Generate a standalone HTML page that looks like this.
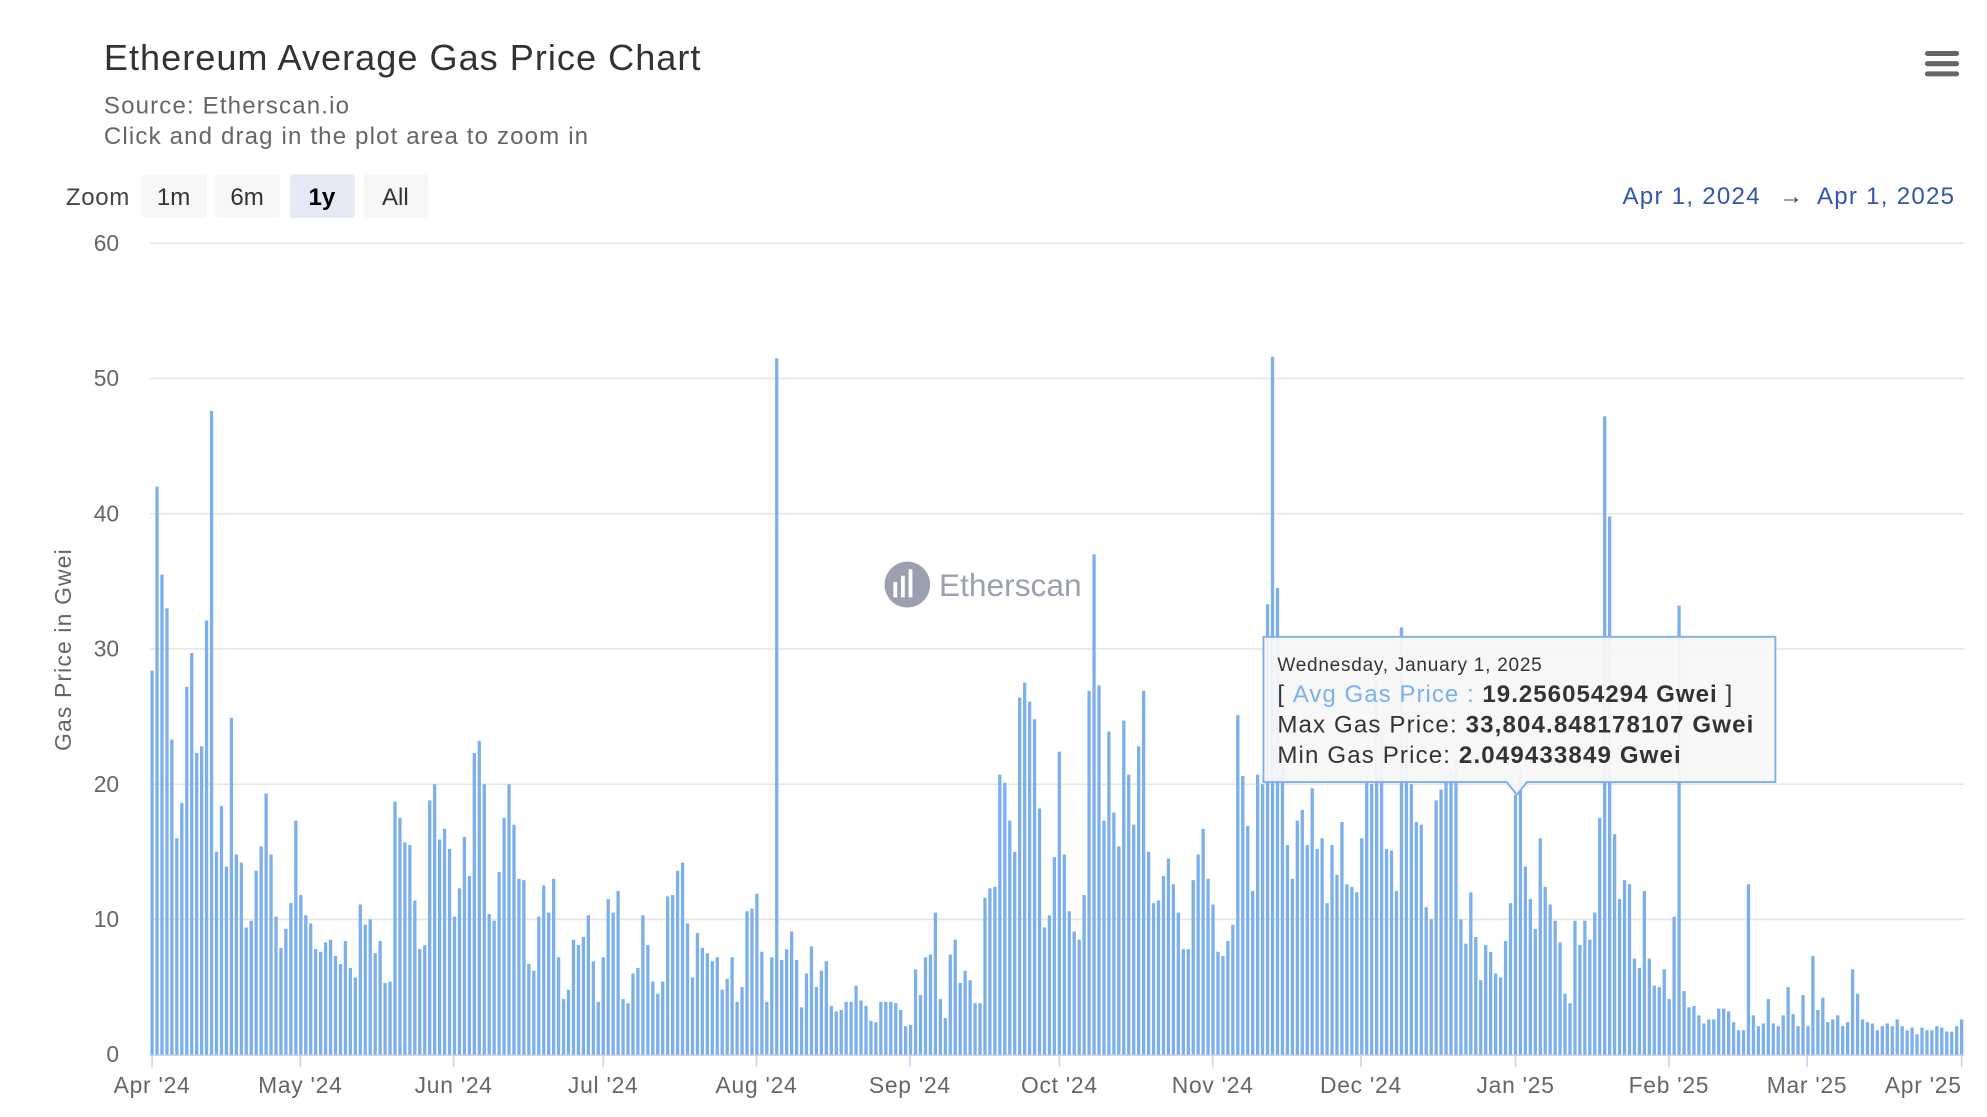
<!DOCTYPE html>
<html><head><meta charset="utf-8"><style>
html,body{margin:0;padding:0;background:#fff;overflow:hidden}
#w{width:1568px;height:877px;transform:scale(1.26722,1.27366);transform-origin:0 0;position:relative;font-family:"Liberation Sans","DejaVu Sans",sans-serif}
svg text{font-family:"Liberation Sans","DejaVu Sans",sans-serif}
</style></head><body><div id="w">
<svg id="s" width="1568" height="877" xmlns="http://www.w3.org/2000/svg">
<text x="82" y="55" font-size="28.5" fill="#333" letter-spacing="0.8">Ethereum Average Gas Price Chart</text>
<text x="82" y="89" font-size="19" fill="#666" letter-spacing="0.9">Source: Etherscan.io</text>
<text x="82" y="113" font-size="19" fill="#666" letter-spacing="0.9">Click and drag in the plot area to zoom in</text>
<g fill="#666"><rect x="1519" y="40" width="27" height="4" rx="2"/><rect x="1519" y="48" width="27" height="4" rx="2"/><rect x="1519" y="56" width="27" height="4" rx="2"/></g>
<text x="52" y="161" font-size="19" fill="#444" letter-spacing="0.5">Zoom</text>
<rect x="112" y="137" width="51" height="34" rx="2" fill="#f7f7f7"/><text x="137" y="161" font-size="19" text-anchor="middle" fill="#333">1m</text>
<rect x="170" y="137" width="51" height="34" rx="2" fill="#f7f7f7"/><text x="195" y="161" font-size="19" text-anchor="middle" fill="#333">6m</text>
<rect x="229" y="137" width="51" height="34" rx="2" fill="#e6e9f5"/><text x="254" y="161" font-size="19" text-anchor="middle" fill="#000" font-weight="bold">1y</text>
<rect x="287" y="137" width="51" height="34" rx="2" fill="#f7f7f7"/><text x="312" y="161" font-size="19" text-anchor="middle" fill="#333">All</text>
<text x="1543" y="160" font-size="19" text-anchor="end" fill="#3355aa" letter-spacing="1">Apr 1, 2024 <tspan fill="#444" dx="8">→</tspan><tspan dx="10">Apr 1, 2025</tspan></text>
<g id="grid"></g>
<text transform="translate(56,510) rotate(-90)" font-size="18" text-anchor="middle" fill="#666" letter-spacing="0.9">Gas Price in Gwei</text>
<g opacity="0.75"><circle cx="716" cy="459" r="18" fill="#7a8096"/><text x="741" y="468" font-size="25" fill="#7a8096">Etherscan</text><g fill="#fff"><rect x="705" y="457" width="3" height="12"/><rect x="711" y="452" width="3" height="17"/><rect x="717" y="447" width="3" height="22"/></g></g>
<g id="bars" fill="#7cb0ec"></g>
<g id="xl"></g>
<g>
<path d="M997,500 H1401 V614 H1205 L1197,624 L1189,614 H997 Z" fill="#f7f7f7" fill-opacity="0.95" stroke="#7cb0ec" stroke-width="1.5"/>
<text x="1008" y="527" font-size="15" fill="#333" letter-spacing="0.6">Wednesday, January 1, 2025</text>
<text x="1008" y="551" font-size="19" fill="#333" letter-spacing="0.8">[ <tspan fill="#7cb0ec">Avg Gas Price : </tspan><tspan font-weight="bold">19.256054294 Gwei</tspan> ]</text>
<text x="1008" y="575" font-size="19" fill="#333" letter-spacing="0.9">Max Gas Price: <tspan font-weight="bold">33,804.848178107 Gwei</tspan></text>
<text x="1008" y="599" font-size="19" fill="#333" letter-spacing="0.9">Min Gas Price: <tspan font-weight="bold">2.049433849 Gwei</tspan></text>
</g>
</svg>
<script>
var d=[28.4,42,35.5,33,23.3,16,18.6,27.2,29.7,22.3,22.8,32.1,47.6,15,18.4,13.9,24.9,14.8,14.2,9.4,9.9,13.6,15.4,19.3,14.8,10.2,7.9,9.3,11.2,17.3,
11.8,10.3,9.7,7.8,7.6,8.3,8.5,7.3,6.7,8.4,6.4,5.7,11.1,9.6,10,7.5,8.4,5.3,5.4,18.7,17.5,15.7,15.5,11.4,7.8,8.1,18.8,20,15.9,16.7,15.2,
10.2,12.3,16.1,13.2,22.3,23.2,20,10.4,9.9,13.5,17.5,20,17,13,12.9,6.7,6.2,10.2,12.5,10.5,13,7.2,4.1,4.8,8.5,8.1,8.7,10.3,6.9,3.9,
7.2,11.5,10.5,12.1,4.1,3.8,6,6.4,10.3,8.1,5.4,4.5,5.4,11.7,11.8,13.6,14.2,9.7,5.7,9,7.9,7.5,6.9,7.2,4.8,5.6,7.2,3.9,5,10.6,10.8,
11.9,7.6,3.9,7.2,51.5,7,7.8,9.1,7,3.5,6,8,5,6.2,6.9,3.6,3.2,3.3,3.9,3.9,5.1,4,3.6,2.5,2.4,3.9,3.9,3.9,3.8,3.3,2.1,
2.2,6.3,4.4,7.2,7.4,10.5,4.1,2.7,7.4,8.5,5.3,6.2,5.5,3.8,3.8,11.6,12.3,12.4,20.7,20.1,17.3,15,26.4,27.5,26.1,24.8,18.2,9.4,10.3,14.6,
22.4,14.8,10.6,9.1,8.5,11.8,26.9,37,27.3,17.3,23.9,17.9,15.4,24.7,20.7,17,22.8,26.9,15,11.2,11.4,13.2,14.5,12.6,10.5,7.8,7.8,12.9,14.8,16.7,13,
11.1,7.6,7.3,8.4,9.6,25.1,20.6,16.9,12.1,20.7,20,33.3,51.6,34.5,22,15.5,13,17.3,18.1,15.5,19.7,15.2,16,11.2,15.5,13.3,17.2,12.6,12.4,12,
16,20.5,20,28,24,15.2,15.1,12.1,31.6,24,20,17.2,17,10.9,10,18.8,19.6,20.7,21,22,10,8.2,12,8.7,5.5,8.1,7.6,6,5.7,8.4,11.2,
19.2,21,13.9,11.5,9.3,16,12.4,11.1,9.9,8.3,4.5,3.8,9.9,8.1,9.9,8.5,10.5,17.5,47.2,39.8,16.3,11.5,12.9,12.6,7.1,6.4,12.1,7.1,5.1,5,6.3,
4.1,10.2,33.2,4.7,3.5,3.6,2.9,2.3,2.6,2.6,3.4,3.4,3.2,2.4,1.8,1.8,12.6,2.9,2.1,2.3,4.1,2.3,2.1,2.9,5,3,2.1,4.4,
2.1,7.3,3.3,4.2,2.4,2.6,2.9,2.1,2.4,6.3,4.5,2.6,2.4,2.3,1.8,2.1,2.3,2.1,2.6,2.1,1.8,2,1.5,2,1.8,1.8,2.1,2,1.7,1.7,2.1,
2.6];
var NS="http://www.w3.org/2000/svg";
function el(t,a,p,tx){var e=document.createElementNS(NS,t);for(var k in a)e.setAttribute(k,a[k]);if(tx!==undefined)e.textContent=String(tx);p.appendChild(e);return e;}
var g=document.getElementById('grid'),b=document.getElementById('bars'),xl=document.getElementById('xl');
var y0=828,pu=10.617;
for(var v=0;v<=60;v+=10){var y=y0-v*pu;if(v>0)el('line',{x1:118,x2:1550,y1:y,y2:y,stroke:'#e6e6e6','stroke-width':1.3},g);el('text',{x:94,y:y+6,'font-size':18,'text-anchor':'end',fill:'#666'},g,v);}
el('line',{x1:118,x2:1550,y1:y0+0.5,y2:y0+0.5,stroke:'#ccd6eb','stroke-width':1.3},g);
var n=d.length,x0=120,x1=1548,st=(x1-x0)/(n-1);
for(var i=0;i<n;i++){var h=d[i]*pu;el('rect',{x:x0+i*st-1.3,y:y0-h,width:2.6,height:h},b);}
var m=[["Apr '24",120],["May '24",237],["Jun '24",358],["Jul '24",476],["Aug '24",597],["Sep '24",718],["Oct '24",836],["Nov '24",957],["Dec '24",1074],["Jan '25",1196],["Feb '25",1317],["Mar '25",1426],["Apr '25",1548]];
m.forEach(function(a,k){el('line',{x1:a[1],x2:a[1],y1:y0,y2:y0+10,stroke:'#ccd6eb','stroke-width':1.3},xl);el('text',{x:a[1],y:858,'font-size':18,'text-anchor':k==m.length-1?'end':'middle',fill:'#666','letter-spacing':0.6},xl,a[0]);});
</script>
</div></body></html>
